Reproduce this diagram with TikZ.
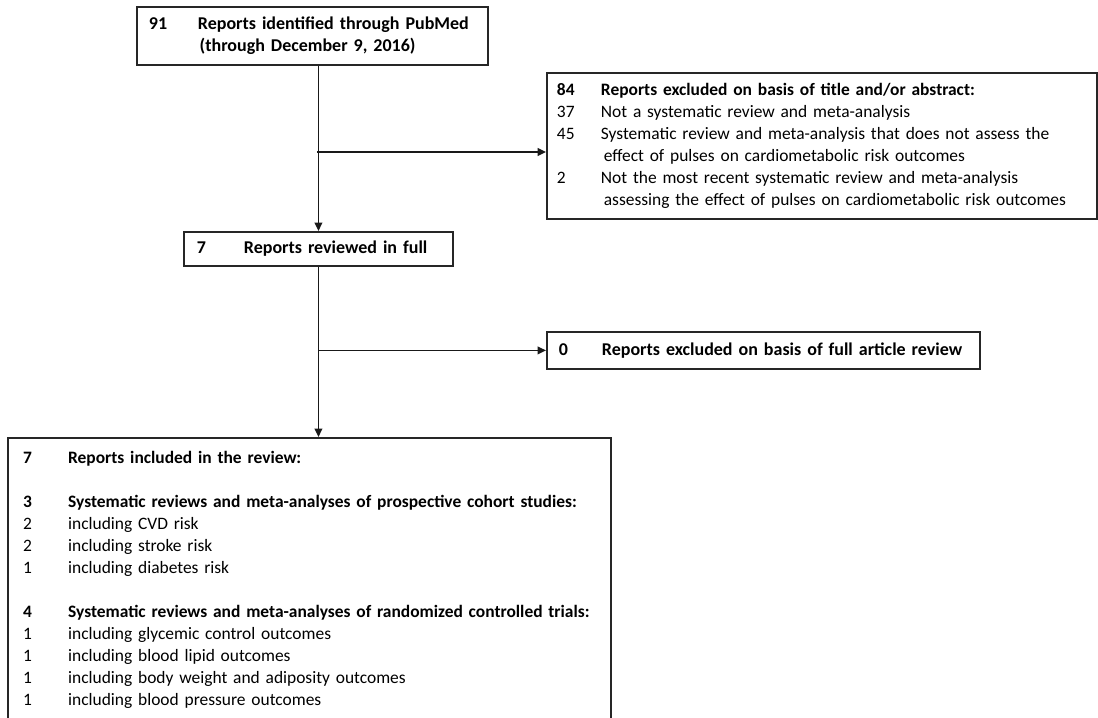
\documentclass[tikz,border=0pt]{standalone}
\usepackage{fontspec}
\setmainfont{Carlito}
\usetikzlibrary{arrows.meta}
\newcommand{\num}[3][1.1cm]{\mbox{\makebox[#1][l]{#2}#3}}

\begin{document}
\begin{tikzpicture}[x=0.025cm,y=-0.025cm,font=\fontsize{12.4}{15.6}\selectfont,
    box/.style={draw=black!85,line width=1.3pt,anchor=north west,align=left,inner ysep=0pt},
    bigbox/.style={box,font=\fontsize{12.8}{15.6}\selectfont\bfseries},
    link/.style={draw=black!90,line width=1.1pt,-{Triangle[length=6pt,width=5.5pt]}}]
    \useasboundingbox (0,0) rectangle (1098,717);
    \clip (0,0) rectangle (1098,717);
    \node[bigbox,text width=8.175cm,inner xsep=0.3cm,minimum height=1.45cm] (found) at (136,6)
        {\num[1.225cm]{91}{Reports identified through PubMed}\\
         \num[1.27cm]{}{(through December 9, 2016)}};
    \node[box,text width=13.25cm,inner xsep=0.25cm,minimum height=3.65cm] (screenout) at (546,72)
        {\textbf{\num{84}{Reports excluded on basis of title and/or abstract:}}\\
         \num{37}{Not a systematic review and meta-analysis}\\
         \num{45}{Systematic review and meta-analysis that does not assess the}\\
         \num{}{\,effect of pulses on cardiometabolic risk outcomes}\\
         \num{2}{Not the most recent systematic review and meta-analysis}\\
         \num{}{\,assessing the effect of pulses on cardiometabolic risk outcomes}};
    \node[bigbox,text width=6.075cm,inner xsep=0.325cm,minimum height=0.85cm] (full) at (183,231)
        {\num[1.175cm]{7}{Reports reviewed in full}};
    \node[bigbox,text width=10.225cm,inner xsep=0.3cm,minimum height=0.925cm] (fullout) at (546,331)
        {\num[1.075cm]{0}{Reports excluded on basis of full article review}};
    \node[box,text width=14.315cm,inner xsep=0.38cm,inner ysep=0.34cm] (incl) at (7,437)
        {\textbf{\num[1.125cm]{7}{Reports included in the review:}}\\
         \mbox{}\\
         \textbf{\num[1.125cm]{3}{Systematic reviews and meta-analyses of prospective cohort studies:}}\\
         \num[1.125cm]{2}{including CVD risk}\\
         \num[1.125cm]{2}{including stroke risk}\\
         \num[1.125cm]{1}{including diabetes risk}\\
         \mbox{}\\
         \textbf{\num[1.125cm]{4}{Systematic reviews and meta-analyses of randomized controlled trials:}}\\
         \num[1.125cm]{1}{including glycemic control outcomes}\\
         \num[1.125cm]{1}{including blood lipid outcomes}\\
         \num[1.125cm]{1}{including body weight and adiposity outcomes}\\
         \num[1.125cm]{1}{including blood pressure outcomes}\\
         \mbox{}};
    \coordinate (j1) at (317,152);
    \draw[link] (found.south -| full.north) -- (full.north);
    \draw[link] (j1) -- (j1 -| screenout.west);
    \draw[link] (full.south) -- (full.south |- incl.north);
    \draw[link] (full.south |- fullout.west) -- (fullout.west);
\end{tikzpicture}
\end{document}
